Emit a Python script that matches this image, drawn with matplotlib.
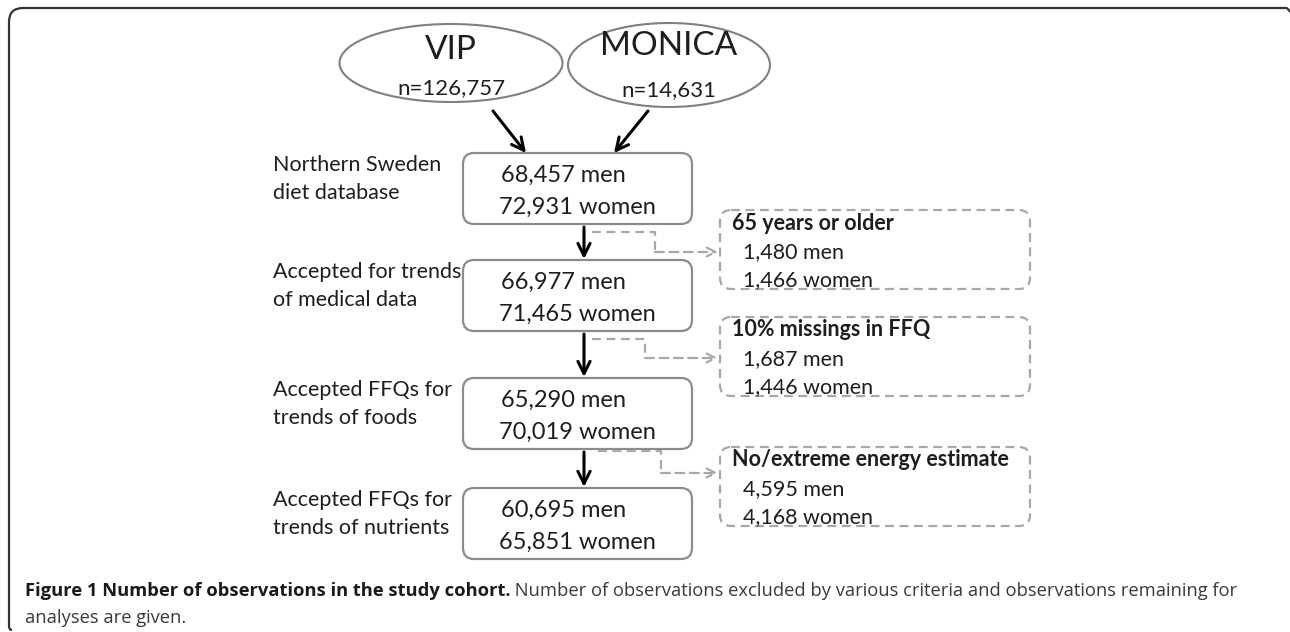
import matplotlib
matplotlib.use("Agg")
import matplotlib.pyplot as plt
from matplotlib.patches import Ellipse, FancyBboxPatch
from matplotlib.path import Path
from matplotlib.patches import PathPatch

# source cohorts
sources = ["VIP", "MONICA"]
source_n = ["n=126,757", "n=14,631"]

# main flow: stage label, men, women
stage_labels = [
    "Northern Sweden\ndiet database",
    "Accepted for trends\nof medical data",
    "Accepted FFQs for\ntrends of foods",
    "Accepted FFQs for\ntrends of nutrients",
]
stage_men = ["68,457", "66,977", "65,290", "60,695"]
stage_women = ["72,931", "71,465", "70,019", "65,851"]

# exclusions between stages
excl_titles = ["65 years or older", "10% missings in FFQ", "No/extreme energy estimate"]
excl_men = ["1,480", "1,687", "4,595"]
excl_women = ["1,466", "1,446", "4,168"]

caption_bold = "Figure 1 Number of observations in the study cohort."
caption_rest = " Number of observations excluded by various criteria and observations remaining for"
caption_line2 = "analyses are given."

W, H = 1290, 632
fig = plt.figure(figsize=(W / 100, H / 100), dpi=100)
ax = fig.add_axes([0, 0, 1, 1])
ax.set_xlim(0, W)
ax.set_ylim(H, 0)
ax.axis("off")

FONT = "Lato"
TXT = "#1e1e1e"
BOX_EDGE = "#8c8c8c"
DASH_EDGE = "#a8a8a8"

# outer frame (top and left edges with rounded corners)
r = 14
verts = [(1290, 12), (1288, 8), (1286, 8), (9 + r, 8), (9, 8), (9, 8 + r),
         (9, 626), (9, 630), (12, 630)]
codes = [Path.MOVETO, Path.CURVE3, Path.CURVE3, Path.LINETO, Path.CURVE3, Path.CURVE3,
         Path.LINETO, Path.CURVE3, Path.CURVE3]
ax.add_patch(PathPatch(Path(verts, codes), fill=False, lw=1.6, color="#333333"))

# source ellipses
ell = [(451, 63, 223, 78), (669, 65, 202, 84)]
name_dy = [-13, -19]
for (cx, cy, w, h), name, n, dy in zip(ell, sources, source_n, name_dy):
    ax.add_patch(Ellipse((cx, cy), w, h, fill=False, ec="#808080", lw=1.5))
    ax.text(cx, cy + dy, name, ha="center", va="center", fontsize=24, family=FONT, color=TXT)
    ax.text(cx, cy + 25, n, ha="center", va="center", fontsize=16, family=FONT, color=TXT)

# arrows from sources into first box
for start, tip in [((493, 111), (526, 153)), ((648, 111), (614, 153))]:
    ax.annotate("", xy=tip, xytext=start,
                arrowprops=dict(arrowstyle="->", lw=2.2, color="black", mutation_scale=22,
                                shrinkA=0, shrinkB=0))

# main boxes
box_top = [153, 260, 378, 488]
box_h = 71
bx0, bx1 = 463, 692
for i, top in enumerate(box_top):
    ax.add_patch(FancyBboxPatch((bx0, top), bx1 - bx0, box_h,
                                boxstyle="round,pad=0,rounding_size=11",
                                fill=False, ec=BOX_EDGE, lw=1.6))
    ax.text(501, top + 22, stage_men[i] + " men", ha="left", va="center",
            fontsize=17, family=FONT, color=TXT)
    ax.text(499, top + 54, stage_women[i] + " women", ha="left", va="center",
            fontsize=17, family=FONT, color=TXT)
    ax.text(273, top + 26, stage_labels[i], ha="left", va="center", fontsize=15.5,
            family=FONT, color=TXT, linespacing=1.55)

# down arrows between boxes
for i in range(3):
    y0 = box_top[i] + box_h + 3
    y1 = box_top[i + 1] - 1
    ax.annotate("", xy=(584, y1), xytext=(584, y0),
                arrowprops=dict(arrowstyle="->", lw=2.2, color="black", mutation_scale=22,
                                shrinkA=0, shrinkB=0))

# exclusion boxes
ex_top = [210, 317, 447]
ex_h = 79
ex0, ex1 = 720, 1030
elbow = [(592, 232, 655, 252), (592, 339, 645, 358), (598, 451, 661, 473)]
for i, top in enumerate(ex_top):
    ax.add_patch(FancyBboxPatch((ex0, top), ex1 - ex0, ex_h,
                                boxstyle="round,pad=0,rounding_size=11",
                                fill=False, ec=DASH_EDGE, lw=1.6, ls=(0, (4, 2.5))))
    ax.text(732, top + 13, excl_titles[i], ha="left", va="center", fontsize=15.5,
            family=FONT, weight="bold", color=TXT)
    ax.text(743, top + 42, excl_men[i] + " men", ha="left", va="center", fontsize=15.5,
            family=FONT, color=TXT)
    ax.text(743, top + 70, excl_women[i] + " women", ha="left", va="center", fontsize=15.5,
            family=FONT, color=TXT)
    x0, y0, xm, y1 = elbow[i]
    ax.plot([x0, xm, xm], [y0, y0, y1], color=DASH_EDGE, lw=1.6, ls=(0, (4, 2.5)))
    ax.annotate("", xy=(ex0 - 2, y1), xytext=(xm, y1),
                arrowprops=dict(arrowstyle="->", lw=1.6, color=DASH_EDGE, ls=(0, (4, 2.5)),
                                mutation_scale=16, shrinkA=0, shrinkB=0))

# caption
cap_font = "Open Sans"
cap_size = 13.2
t = ax.text(25, 591, caption_bold, ha="left", va="center", fontsize=cap_size,
            family=cap_font, weight="bold", color="#1a1a1a")
fig.canvas.draw()
bb = t.get_window_extent(renderer=fig.canvas.get_renderer())
x_end = ax.transData.inverted().transform((bb.x1, bb.y0))[0]
ax.text(x_end, 591, caption_rest, ha="left", va="center", fontsize=cap_size,
        family=cap_font, color="#3a3a3a")
ax.text(25, 618, caption_line2, ha="left", va="center", fontsize=cap_size,
        family=cap_font, color="#3a3a3a")

fig.savefig("out.png", dpi=100)
